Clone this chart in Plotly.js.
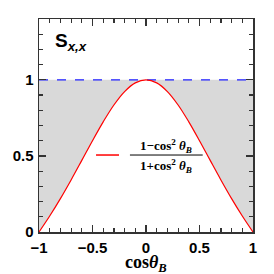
<!DOCTYPE html>
<html>
<head>
<meta charset="utf-8">
<script src="https://cdn.plot.ly/plotly-3.0.1.min.js"></script>
<style>html,body{margin:0;padding:0;background:#fff;}#chart{width:274px;height:274px;}</style>
</head>
<body>
<div id="chart"></div>
<script>
// cosθ_B values and S_{x,x} curve values
const cosTheta = [-1.0,-0.9,-0.8,-0.7,-0.6,-0.5,-0.4,-0.3,-0.2,-0.1,0.0,0.1,0.2,0.3,0.4,0.5,0.6,0.7,0.8,0.9,1.0];
const sxx = [0.0,0.105,0.2195,0.3423,0.4706,0.6,0.7241,0.8349,0.9231,0.9802,1.0,0.9802,0.9231,0.8349,0.7241,0.6,0.4706,0.3423,0.2195,0.105,0.0];
const upperX = [-1.0, 1.0];
const upperY = [1.0, 1.0];
const xTickVals = [-1, -0.5, 0, 0.5, 1];
const xTickText = ['\u22121', '\u22120.5', '0', '0.5', '1'];
const yTickVals = [0, 0.5, 1];
const yTickText = ['0', '0.5', '1'];
const onesAtX = cosTheta.map(() => 1.0);

const traces = [
  {x: cosTheta, y: onesAtX, mode: 'lines', line: {width: 0, color: 'rgba(0,0,0,0)'}, showlegend: false, hoverinfo: 'skip'},
  {x: cosTheta, y: sxx, mode: 'lines', line: {width: 0, shape: 'spline', color: 'rgba(0,0,0,0)'}, fill: 'tonexty', fillcolor: '#d9d9d9', showlegend: false, hoverinfo: 'skip'},
  {x: upperX, y: upperY, mode: 'lines', line: {color: '#1f1fff', width: 1.2, dash: 'dash'}, showlegend: false},
  {x: cosTheta, y: sxx, mode: 'lines', line: {color: '#ff0000', width: 1.2, shape: 'spline'}, name: 'S', showlegend: false}
];

const axisCommon = {
  ticks: 'inside', ticklen: 7, tickwidth: 1.2, tickcolor: '#333',
  showline: true, linecolor: '#333', linewidth: 1.5, mirror: 'allticks',
  showgrid: false, zeroline: false,
  tickfont: {family: 'Liberation Sans, Arial, sans-serif', size: 15, color: '#000', weight: 'bold'},
  minor: {ticks: 'inside', ticklen: 4, dtick: 0.1, tickwidth: 1.2, tickcolor: '#333', showgrid: false}
};

const serifBold = {family: 'Liberation Serif, Times New Roman, serif', size: 13, color: '#000', weight: 'bold'};

const layout = {
  width: 274, height: 274,
  margin: {l: 39, r: 21, t: 19, b: 42},
  paper_bgcolor: '#fff', plot_bgcolor: '#fff',
  showlegend: false,
  xaxis: Object.assign({}, axisCommon, {
    range: [-1, 1], tickmode: 'array', tickvals: xTickVals, ticktext: xTickText, ticklabelstandoff: 1
  }),
  yaxis: Object.assign({}, axisCommon, {
    range: [0, 1.4], tickmode: 'array', tickvals: yTickVals, ticktext: yTickText, ticklabelstandoff: 1
  }),
  shapes: [
    {type: 'line', xref: 'x', yref: 'y', x0: -0.467, x1: -0.252, y0: 0.506, y1: 0.506, line: {color: '#ff0000', width: 1.5}},
    {type: 'line', xref: 'x', yref: 'y', x0: -0.15, x1: 0.53, y0: 0.506, y1: 0.506, line: {color: '#000', width: 1}}
  ],
  annotations: [
    {xref: 'x', yref: 'paper', x: 0.0, y: -0.146, xanchor: 'center', yanchor: 'middle', showarrow: false,
     text: 'cos<i>θ</i><sub><i>B</i></sub>', font: {family: 'Liberation Serif, Times New Roman, serif', size: 18, color: '#000', weight: 'bold'}},
    {xref: 'x', yref: 'y', x: -0.87, y: 1.25, xanchor: 'left', yanchor: 'middle', showarrow: false,
     text: 'S<sub><i>x,x</i></sub>', font: {family: 'Liberation Sans, Arial, sans-serif', size: 19, color: '#000', weight: 'bold'}},
    {xref: 'x', yref: 'y', x: 0.19, y: 0.506, xanchor: 'center', yanchor: 'bottom', yshift: -2, showarrow: false,
     text: '1\u2212cos<sup>2</sup> <i>θ<sub>B</sub></i>', font: serifBold},
    {xref: 'x', yref: 'y', x: 0.19, y: 0.506, xanchor: 'center', yanchor: 'top', yshift: 0, showarrow: false,
     text: '1+cos<sup>2</sup> <i>θ<sub>B</sub></i>', font: serifBold}
  ]
};

Plotly.newPlot('chart', traces, layout, {displayModeBar: false, staticPlot: true});
</script>
</body>
</html>
